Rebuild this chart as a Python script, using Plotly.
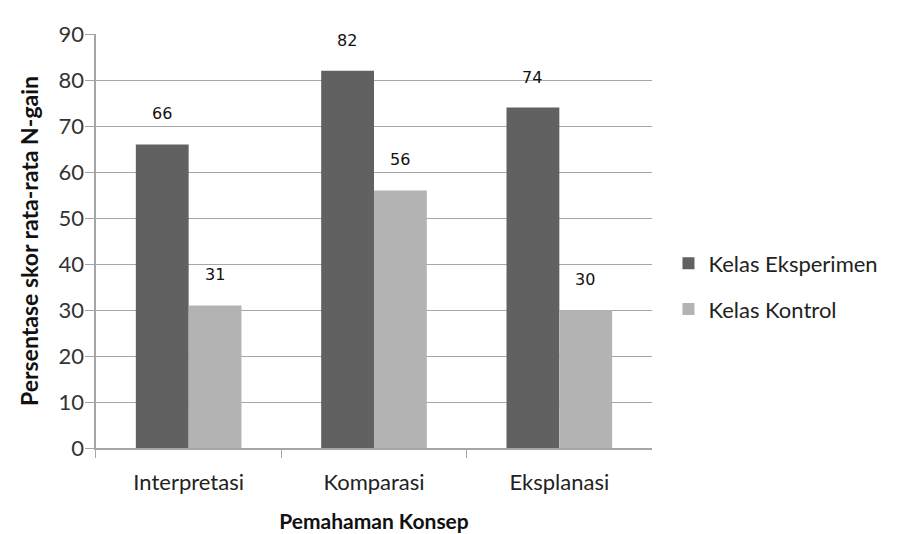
import plotly.graph_objects as go

categories = ["Interpretasi", "Komparasi", "Eksplanasi"]
eksperimen = [66, 82, 74]
kontrol = [31, 56, 30]
series_names = ["Kelas Eksperimen", "Kelas Kontrol"]
y_ticks = [0, 10, 20, 30, 40, 50, 60, 70, 80, 90]

FONT = "Lato"
DARK = "#616161"
LIGHT = "#b3b3b3"
AX = "#a6a6a6"

fig = go.Figure()
fig.add_trace(go.Bar(x=categories, y=eksperimen, name=series_names[0],
                     marker=dict(color=DARK, line=dict(width=0)), legendgroup="a"))
fig.add_trace(go.Bar(x=categories, y=kontrol, name=series_names[1],
                     marker=dict(color=LIGHT, line=dict(width=0)), legendgroup="b"))
# empty helper trace so the label axis is drawn
fig.add_trace(go.Scatter(x=[], y=[], yaxis="y2", showlegend=False, hoverinfo="skip"))

annotations = []
for vals, shift in ((eksperimen, -27), (kontrol, 26)):
    for c, v in zip(categories, vals):
        annotations.append(dict(x=c, y=v, xref="x", yref="y", text=str(v),
                                showarrow=False, xshift=shift, yshift=19,
                                yanchor="bottom",
                                font=dict(family="DejaVu Sans", size=16, color="#111")))

fig.update_layout(
    width=904, height=534,
    margin=dict(l=76, r=260, t=16, b=94),
    paper_bgcolor="white", plot_bgcolor="white",
    barmode="group", bargap=0.43, bargroupgap=0,
    font=dict(family=FONT, size=21, color="#333"),
    showlegend=True,
    legend=dict(x=1.029, y=0.39, xanchor="left", yanchor="middle",
                tracegroupgap=14, font=dict(family=FONT, size=22, color="#222"),
                itemwidth=30),
    annotations=annotations,
    yaxis2=dict(
        overlaying="y", anchor="free", position=0, side="left",
        range=[0, 90], tickvals=y_ticks, showgrid=False, zeroline=False,
        showline=False, ticks="",
        tickfont=dict(family=FONT, size=22, color="#333"),
        title=dict(text="<b>Persentase skor rata-rata N-gain</b>", standoff=12,
                   font=dict(family=FONT, size=23, color="#111")),
    ),
)
fig.update_xaxes(
    domain=[0.0211, 1],
    showline=True, linecolor=AX, linewidth=1.5,
    ticks="outside", tickson="boundaries", ticklen=8, tickcolor=AX,
    ticklabelstandoff=14,
    tickfont=dict(family=FONT, size=22, color="#222"),
    title=dict(text="<b>Pemahaman Konsep</b>", standoff=20,
               font=dict(family=FONT, size=21, color="#111")),
    showgrid=False,
)
fig.update_layout(yaxis=dict(
    range=[0, 90], tickvals=y_ticks,
    showline=True, linecolor=AX, linewidth=1.5,
    ticks="outside", ticklen=9, tickcolor=AX,
    showticklabels=False,
    showgrid=True, gridcolor=AX, gridwidth=1.2,
    zeroline=False,
))

fig.write_html("out.html")
